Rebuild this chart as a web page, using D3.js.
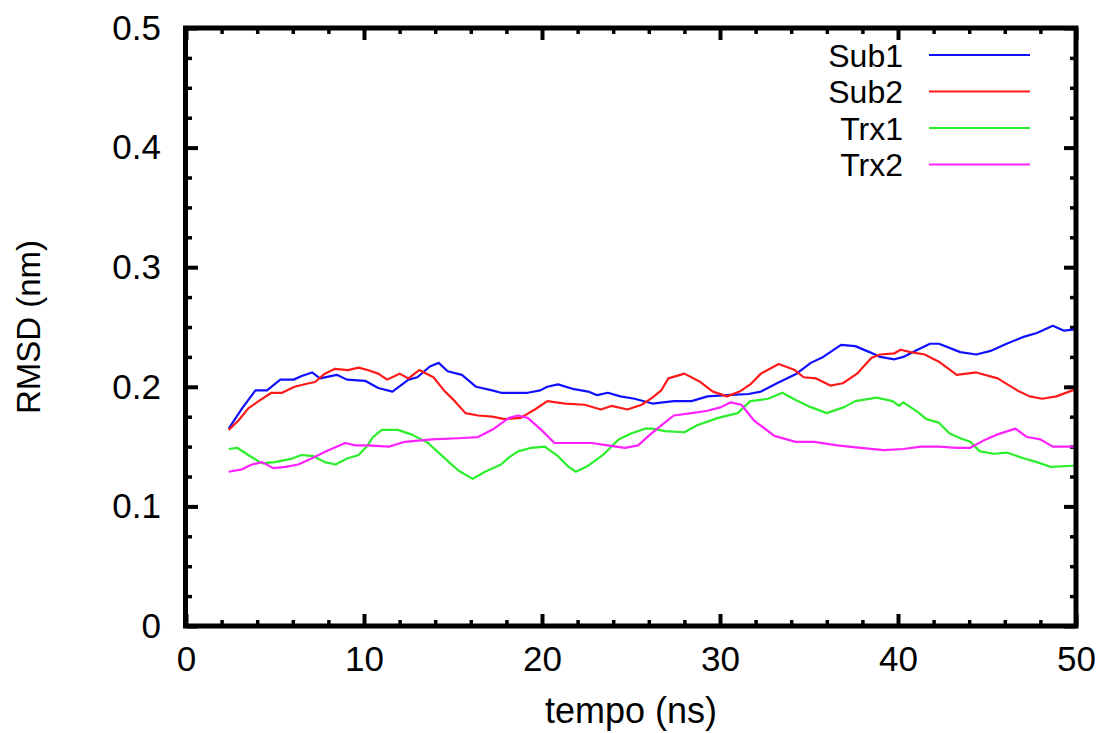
<!DOCTYPE html>
<html><head><meta charset="utf-8">
<script src="https://cdn.jsdelivr.net/npm/d3@7"></script>
<style>
html,body{margin:0;padding:0;background:#fff;}
svg{display:block;font-family:"Liberation Sans",Arial,sans-serif;}
</style></head>
<body>
<svg id="chart" width="1104" height="733"></svg>
<script>
const seriesNames = ["Sub1","Sub2","Trx1","Trx2"];
const seriesColors = ["#1010ff","#ff1a1a","#2aef2a","#ff22ff"];
const xMajorTicks = [0,10,20,30,40,50];
const yMajorTicks = [0,0.1,0.2,0.3,0.4,0.5];
const yTickLabels = ["0","0.1","0.2","0.3","0.4","0.5"];

const sub1 = [[2.4,.165],[3.15,.182],[3.9,.197],[4.55,.197],[5.3,.206],[6.05,.206],[6.5,.209],[7.08,.212],[7.53,.207],[8.47,.210],[9.04,.206],[10.06,.205],[10.8,.199],[11.6,.196],[12.5,.206],[13.0,.208],[13.7,.217],[14.2,.220],[14.7,.213],[15.5,.210],[16.3,.200],[17.2,.197],[17.7,.195],[18.2,.195],[19.2,.195],[19.9,.197],[20.3,.200],[20.9,.202],[21.8,.198],[22.6,.196],[23.1,.193],[23.7,.195],[24.4,.192],[25.2,.190],[26.2,.186],[27.4,.188],[28.4,.188],[29.3,.192],[30.4,.193],[31.6,.194],[32.3,.196],[33.2,.203],[34.3,.211],[35.1,.220],[35.8,.225],[36.8,.235],[37.6,.234],[38.4,.229],[39.0,.225],[39.8,.223],[40.3,.225],[41.1,.231],[41.8,.236],[42.3,.236],[43.5,.229],[44.4,.227],[45.2,.230],[46.1,.236],[47.1,.242],[47.8,.245],[48.7,.251],[49.3,.247],[50,.248]];
const sub2 = [[2.4,.164],[2.96,.172],[3.5,.182],[4.08,.188],[4.8,.195],[5.4,.195],[6.1,.200],[6.9,.203],[7.25,.204],[7.8,.211],[8.37,.215],[9.1,.214],[9.7,.216],[10.2,.214],[10.8,.211],[11.3,.206],[12.0,.211],[12.5,.207],[13.1,.214],[13.9,.208],[14.55,.196],[15.1,.188],[15.7,.178],[16.4,.176],[17.2,.175],[17.9,.173],[18.8,.174],[19.6,.181],[20.3,.188],[21.3,.186],[22.4,.185],[23.3,.181],[23.9,.184],[24.8,.181],[25.6,.185],[26.2,.191],[26.7,.197],[27.1,.207],[28.0,.211],[28.9,.204],[29.6,.196],[30.4,.192],[31.1,.196],[31.7,.202],[32.3,.211],[33.3,.219],[34.2,.214],[34.7,.208],[35.4,.207],[36.2,.201],[36.9,.203],[37.7,.211],[38.5,.224],[39.0,.227],[39.8,.228],[40.15,.231],[40.7,.229],[41.5,.227],[42.3,.221],[43.3,.210],[44.4,.212],[45.6,.207],[46.7,.197],[47.4,.192],[48.1,.190],[48.9,.192],[49.8,.197],[50,.198]];
const trx1 = [[2.4,.148],[2.87,.149],[3.5,.143],[4.27,.136],[5.0,.137],[5.96,.140],[6.5,.143],[7.17,.142],[7.8,.137],[8.4,.135],[9.05,.140],[9.7,.143],[10.2,.151],[10.5,.158],[11.0,.164],[11.9,.164],[12.7,.160],[13.6,.153],[14.4,.142],[15.3,.130],[16.1,.123],[16.8,.129],[17.7,.135],[18.15,.141],[18.65,.146],[19.4,.149],[20.15,.150],[20.9,.142],[21.5,.133],[21.9,.129],[22.6,.134],[23.5,.144],[24.3,.156],[25.0,.161],[25.8,.165],[26.2,.165],[26.9,.163],[28.0,.162],[28.75,.168],[29.9,.174],[31.0,.178],[31.7,.188],[32.7,.190],[33.5,.195],[34.25,.189],[35.1,.183],[36.0,.178],[36.97,.183],[37.6,.188],[38.8,.191],[39.7,.188],[40.06,.184],[40.3,.187],[41.1,.179],[41.6,.173],[42.3,.170],[42.9,.161],[43.5,.157],[44.06,.154],[44.6,.146],[45.4,.144],[46.1,.145],[47.1,.140],[47.8,.137],[48.6,.133],[49.8,.134],[50,.134]];
const trx2 = [[2.4,.129],[3.15,.131],[3.7,.135],[4.27,.137],[4.9,.132],[5.6,.133],[6.3,.135],[6.9,.139],[7.45,.143],[8.0,.147],[8.95,.153],[9.5,.151],[10.2,.151],[11.4,.150],[12.3,.154],[13.8,.156],[15.3,.157],[16.4,.158],[17.2,.164],[18.15,.174],[18.65,.176],[19.2,.174],[19.96,.164],[20.7,.153],[21.8,.153],[22.8,.153],[23.7,.151],[24.65,.149],[25.4,.151],[26.15,.161],[26.9,.170],[27.4,.176],[28.4,.178],[29.3,.180],[30.06,.183],[30.6,.187],[31.2,.185],[31.9,.172],[33.05,.159],[34.25,.154],[35.3,.154],[36.6,.151],[37.9,.149],[39.2,.147],[40.3,.148],[41.3,.150],[42.3,.150],[43.3,.149],[44.06,.149],[44.8,.155],[45.55,.160],[46.6,.165],[47.25,.158],[48.0,.156],[48.7,.150],[49.8,.150],[50,.150]];
const seriesData = [sub1, sub2, trx1, trx2];

const svg = d3.select("#chart");
const L = 186, R = 1076, T = 28, B = 626;
const x = d3.scaleLinear().domain([0,50]).range([L,R]);
const y = d3.scaleLinear().domain([0,0.5]).range([B,T]);

const xMinor = d3.range(0,50.001,2).filter(v => v % 10 !== 0);
const yMinor = d3.range(0,0.5001,0.025).filter((v,i) => i % 4 !== 0);

function styleAxis(g, w){
  g.select(".domain").remove();
  g.selectAll(".tick line").attr("stroke","#000").attr("stroke-width",w);
  g.selectAll(".tick text").attr("fill","#000").attr("font-size",35);
}
// bottom
svg.append("g").attr("transform",`translate(0,${B})`)
  .call(d3.axisBottom(x).tickValues(xMajorTicks).tickSizeInner(-12).tickSizeOuter(0).tickPadding(20).tickFormat(d3.format("d")))
  .call(g=>styleAxis(g,4));
svg.append("g").attr("transform",`translate(0,${B})`)
  .call(d3.axisBottom(x).tickValues(xMinor).tickSizeInner(-6).tickSizeOuter(0).tickFormat(""))
  .call(g=>styleAxis(g,3.5));
// top
svg.append("g").attr("transform",`translate(0,${T})`)
  .call(d3.axisTop(x).tickValues(xMajorTicks).tickSizeInner(-12).tickSizeOuter(0).tickFormat(""))
  .call(g=>styleAxis(g,4));
svg.append("g").attr("transform",`translate(0,${T})`)
  .call(d3.axisTop(x).tickValues(xMinor).tickSizeInner(-6).tickSizeOuter(0).tickFormat(""))
  .call(g=>styleAxis(g,3.5));
// left
svg.append("g").attr("transform",`translate(${L},0)`)
  .call(d3.axisLeft(y).tickValues(yMajorTicks).tickSizeInner(-12).tickSizeOuter(0).tickPadding(25).tickFormat((d,i)=>yTickLabels[i]))
  .call(g=>styleAxis(g,4));
svg.append("g").attr("transform",`translate(${L},0)`)
  .call(d3.axisLeft(y).tickValues(yMinor).tickSizeInner(-6).tickSizeOuter(0).tickFormat(""))
  .call(g=>styleAxis(g,3.5));
// right
svg.append("g").attr("transform",`translate(${R},0)`)
  .call(d3.axisRight(y).tickValues(yMajorTicks).tickSizeInner(-12).tickSizeOuter(0).tickFormat(""))
  .call(g=>styleAxis(g,4));
svg.append("g").attr("transform",`translate(${R},0)`)
  .call(d3.axisRight(y).tickValues(yMinor).tickSizeInner(-6).tickSizeOuter(0).tickFormat(""))
  .call(g=>styleAxis(g,3.5));

// lines
const line = d3.line().x(d=>x(d[0])).y(d=>y(d[1]));
seriesData.forEach((s,i)=>{
  svg.append("path").datum(s).attr("d",line)
    .attr("fill","none").attr("stroke",seriesColors[i]).attr("stroke-width",2.2)
    .attr("stroke-linejoin","round");
});

// frame
svg.append("rect").attr("x",L-0.5).attr("y",T).attr("width",R-L+0.5).attr("height",B-T)
  .attr("fill","none").attr("stroke","#000").attr("stroke-width",5);

// axis titles
svg.append("text").attr("x",(L+R)/2).attr("y",723).attr("text-anchor","middle")
  .attr("font-size",36).text("tempo (ns)");
svg.append("text").attr("transform",`translate(40,${(T+B)/2}) rotate(-90)`)
  .attr("text-anchor","middle").attr("font-size",33).text("RMSD (nm)");

// legend
const lg = svg.append("g");
seriesNames.forEach((n,i)=>{
  const yy = 55 + i*36.5;
  lg.append("text").attr("x",903).attr("y",yy).attr("dy","0.36em").attr("text-anchor","end")
    .attr("font-size",32).text(n);
  lg.append("line").attr("x1",929).attr("x2",1030).attr("y1",yy).attr("y2",yy)
    .attr("stroke",seriesColors[i]).attr("stroke-width",2);
});
</script>
</body></html>
